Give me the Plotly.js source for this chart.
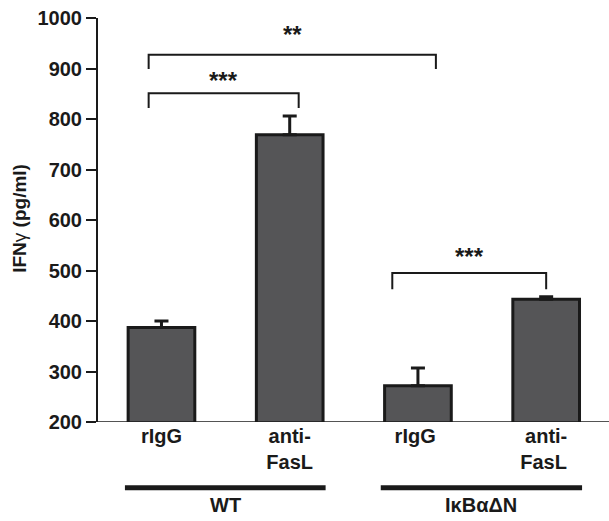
<!DOCTYPE html>
<html><head><meta charset="utf-8">
<script src="https://cdn.plot.ly/plotly-3.0.1.min.js"></script>
<style>body{margin:0;background:#fff}#c{width:609px;height:521px}</style>
</head><body><div id="c"></div>
<script>
const categories = ["rIgG", "anti-<br>FasL", "rIgG ", "anti-<br>FasL "];
const values = [387, 769, 272, 443];
const errors = [13, 37, 35, 5];
const yTicks = [200, 300, 400, 500, 600, 700, 800, 900, 1000];
const groups = ["WT", "IκBαΔN"];
const groupSpan = [[-0.285, 1.28], [1.71, 3.28]];
// significance brackets: [x0, x1, top, legBottom, label, labelY]
const brackets = [
  [-0.1, 2.14, 927, 899, "**", 968],
  [-0.1, 1.07, 851, 822, "***", 876],
  [1.8, 3.0, 495, 463, "***", 528]
];

const xs = categories.map((_, i) => i);
const FAM = "Liberation Sans, Arial, sans-serif";
const font = {family: FAM, size: 20, color: "#1a1a1a", weight: "bold"};

const trace = {
  type: "bar", x: xs, y: values, width: 0.52,
  marker: {color: "#555557", line: {color: "#1a1a1a", width: 3}},
  error_y: {type: "data", symmetric: false, array: errors, arrayminus: errors.map(() => 0),
            color: "#1a1a1a", thickness: 3, width: 7},
  hoverinfo: "none"
};

const shapes = [];
const annotations = [];
brackets.forEach(b => {
  shapes.push({type: "path", xref: "x", yref: "y",
    path: `M ${b[0]} ${b[3]} L ${b[0]} ${b[2]} L ${b[1]} ${b[2]} L ${b[1]} ${b[3]}`,
    line: {color: "#1a1a1a", width: 2}});
  annotations.push({xref: "x", yref: "y", x: (b[0] + b[1]) / 2, y: b[5], text: b[4],
    showarrow: false, font: {family: FAM, size: 24, color: "#1a1a1a"}});
});
groups.forEach((g, i) => {
  shapes.push({type: "line", xref: "x", yref: "paper", x0: groupSpan[i][0], x1: groupSpan[i][1],
    y0: -0.163, y1: -0.163, line: {color: "#1a1a1a", width: 5}});
  annotations.push({xref: "x", yref: "paper", x: (groupSpan[i][0] + groupSpan[i][1]) / 2, y: -0.205,
    text: g, showarrow: false, font: font, yanchor: "middle"});
});
annotations.push({xref: "paper", yref: "paper", x: -0.153, y: 0.505, textangle: -90,
  text: "IFN<span style='font-weight:normal'>γ</span> (pg/ml)", showarrow: false,
  font: {family: FAM, size: 19, color: "#1a1a1a", weight: "bold"}, xanchor: "center", yanchor: "middle"});

const layout = {
  width: 609, height: 521,
  margin: {l: 98, r: 0, t: 18, b: 99},
  paper_bgcolor: "#fff", plot_bgcolor: "#fff",
  showlegend: false, font: font,
  xaxis: {range: [-0.495, 3.49], tickvals: xs, ticktext: categories, showgrid: false, zeroline: false,
          showline: false, ticks: "", tickfont: font, fixedrange: true},
  yaxis: {range: [200, 1000], tickvals: yTicks, ticktext: yTicks.map(String),
          showgrid: false, zeroline: false, showline: true, linewidth: 2, linecolor: "#1a1a1a",
          ticks: "outside", ticklen: 10, tickwidth: 2, tickcolor: "#1a1a1a", tickfont: font},
  shapes: shapes.concat([{type: "line", xref: "paper", yref: "y", x0: 0, x1: 1, y0: 200, y1: 200,
            line: {color: "#1a1a1a", width: 1.5}}]),
  annotations: annotations
};
Plotly.newPlot("c", [trace], layout, {staticPlot: true});
</script></body></html>
